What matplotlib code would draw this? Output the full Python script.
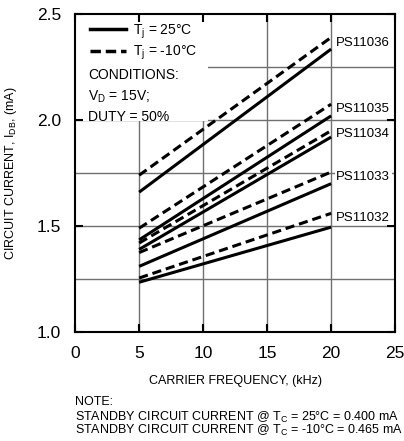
import matplotlib
matplotlib.use('Agg')
import matplotlib.pyplot as plt
from matplotlib.lines import Line2D
from matplotlib.patches import Rectangle

plt.rcParams['font.family'] = ['Liberation Sans', 'DejaVu Sans']
plt.rcParams['mathtext.fontset'] = 'custom'
plt.rcParams['mathtext.rm'] = 'Liberation Sans'
plt.rcParams['mathtext.it'] = 'Liberation Sans:italic'

# carrier frequency range (kHz)
freq = [5, 20]

# circuit current (mA) at 5 kHz and 20 kHz
parts = ['PS11036', 'PS11035', 'PS11034', 'PS11033', 'PS11032']
i_25c = [[1.66, 2.335], [1.435, 2.02], [1.39, 1.92], [1.31, 1.70], [1.235, 1.495]]
i_m10c = [[1.74, 2.39], [1.49, 2.075], [1.42, 1.95], [1.375, 1.755], [1.255, 1.56]]
label_y = [2.363, 2.052, 1.934, 1.731, 1.538]

xticks = [0, 5, 10, 15, 20, 25]
yticks = [1.0, 1.5, 2.0, 2.5]
grid_x = [5, 10, 15, 20]
grid_y = [1.25, 1.5, 1.75, 2.0, 2.25]

fig = plt.figure(figsize=(4.04, 4.41), dpi=100)
ax = fig.add_axes([0.186, 0.247, 0.792, 0.721])

# grid drawn under everything
ax.vlines(grid_x, 1.0, 2.5, color='#707070', lw=1.0, zorder=0.5)
ax.hlines(grid_y, 0, 25, color='#707070', lw=1.0, zorder=0.5)

for name, s, d, ly in zip(parts, i_25c, i_m10c, label_y):
    ax.plot(freq, s, color='black', lw=2.2, solid_capstyle='butt', zorder=2)
    ax.plot(freq, d, color='black', lw=2.2, dashes=(3, 1.6), zorder=2)
    ax.text(20.4, ly, name, fontsize=9.5, va='center', ha='left', zorder=3,
            bbox=dict(facecolor='white', edgecolor='none', pad=1))

ax.set_xlim(0, 25)
ax.set_ylim(1.0, 2.5)
ax.set_xticks(xticks)
ax.set_yticks(yticks)
ax.set_yticklabels(['%.1f' % v for v in yticks])
ax.tick_params(direction='in', length=6, width=1.5, top=True, right=True,
               labelsize=12.5, pad=10)
for sp in ax.spines.values():
    sp.set_linewidth(1.5)

# white box behind the legend
ax.add_patch(Rectangle((0, 0.664), 0.415, 0.336, transform=ax.transAxes,
                       facecolor='white', edgecolor='none', zorder=1.5))

handles = [Line2D([], [], color='black', lw=2.5),
           Line2D([], [], color='black', lw=2.5, dashes=(3, 1.4))]
ax.legend(handles, ['T$_\\mathrm{j}$ = 25°C', 'T$_\\mathrm{j}$ = -10°C'],
          loc='upper left', bbox_to_anchor=(0.02, 1.0), frameon=False,
          fontsize=10, handlelength=2.6, handletextpad=0.5,
          labelspacing=0.2, borderaxespad=0.2)
ax.text(0.04, 0.83, 'CONDITIONS:\nV$_\\mathrm{D}$ = 15V;\nDUTY = 50%',
        transform=ax.transAxes, fontsize=10, va='top', ha='left',
        linespacing=1.5, zorder=3)

ax.set_xlabel('CARRIER FREQUENCY, (kHz)', fontsize=9, labelpad=10)
ax.set_ylabel('CIRCUIT CURRENT, I$_\\mathrm{DB}$, (mA)', fontsize=9, labelpad=13)

fig.text(0.186, 0.088, 'NOTE:', fontsize=9, va='center')
fig.text(0.186, 0.054, 'STANDBY CIRCUIT CURRENT @ T$_\\mathrm{C}$ = 25°C = 0.400 mA',
         fontsize=9, va='center')
fig.text(0.186, 0.023, 'STANDBY CIRCUIT CURRENT @ T$_\\mathrm{C}$ = -10°C = 0.465 mA',
         fontsize=9, va='center')

fig.savefig('out.png', dpi=100)
